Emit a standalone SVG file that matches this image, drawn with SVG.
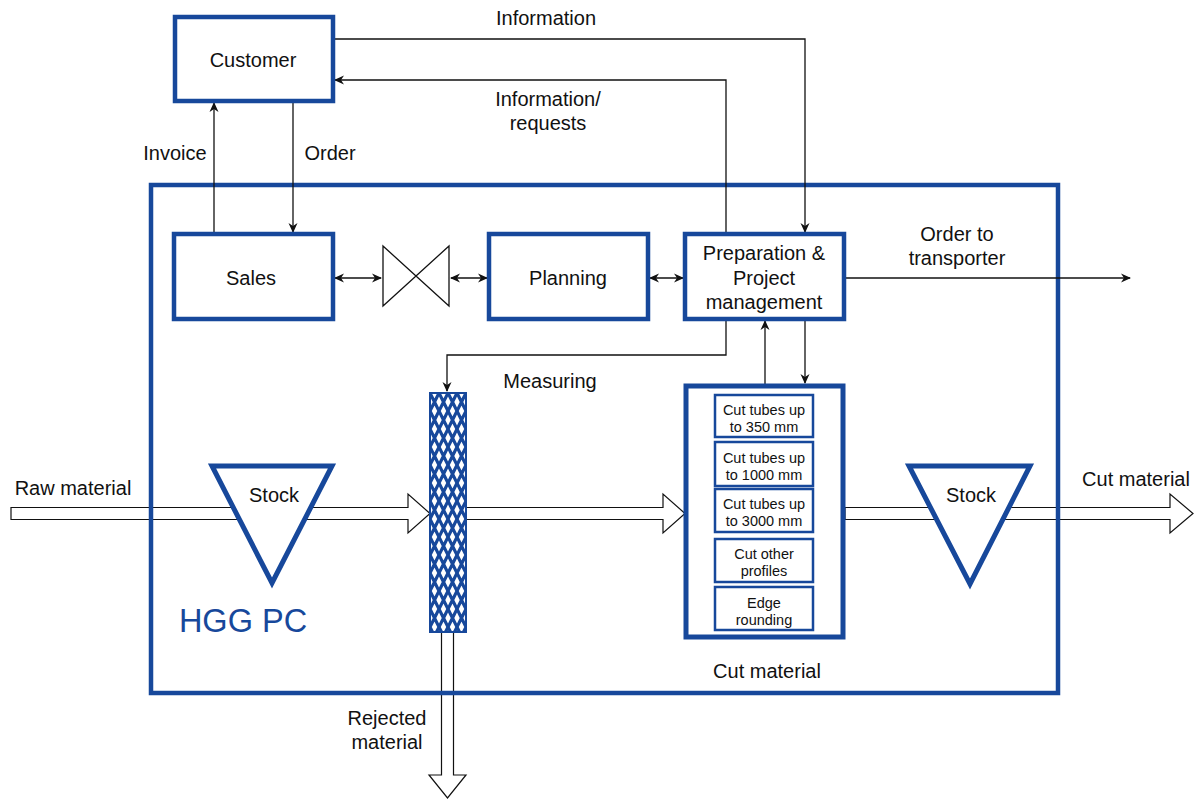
<svg xmlns="http://www.w3.org/2000/svg" width="1200" height="799" viewBox="0 0 1200 799">
<style>
text{font-family:"Liberation Sans",Arial,sans-serif;font-size:20px;fill:#111;text-anchor:middle}
.box{fill:#fff;stroke:#17489b;stroke-width:4.5}
.sb{fill:#fff;stroke:#17489b;stroke-width:2.5}
.sm{font-size:14.5px}
.ln{fill:none;stroke:#111;stroke-width:1.3}
.fat{fill:#fff;stroke:#111;stroke-width:1.2}
.tri{fill:#fff;stroke:#17489b;stroke-width:5;stroke-linejoin:miter}
</style>
<defs>
<marker id="ah" viewBox="0 0 10 10" refX="9" refY="5" markerWidth="10" markerHeight="10" markerUnits="userSpaceOnUse" orient="auto-start-reverse">
<path d="M0,0.5 L10,5 L0,9.5 L3,5 Z" fill="#111"/>
</marker>
<pattern id="mesh" patternUnits="userSpaceOnUse" x="430" y="393" width="9" height="18">
<rect width="9" height="18" fill="#fff"/>
<path d="M0,0 L9,18 M9,0 L0,18 M-4.5,-9 L4.5,9 M4.5,9 L13.5,27 M13.5,-9 L4.5,9 M4.5,9 L-4.5,27" stroke="#17489b" stroke-width="3.2"/>
</pattern>
</defs>
<rect width="1200" height="799" fill="#fff"/>

<g id="material-flow">
<path class="fat" d="M11,507.5 H408 V494 L430,513.5 L408,533 V519.5 H11 Z"/>
<path class="fat" d="M466,507.5 H663 V494 L685,513.5 L663,533 V519.5 H466 Z"/>
<path class="fat" d="M845,507.5 H1170 V494 L1193,513.5 L1170,533 V519.5 H845 Z"/>
<path class="fat" d="M441.5,632 V775 H429 L447.5,798 L466,775 H453.5 V632 Z"/>
</g>

<g id="hgg-pc">
<rect x="151" y="185" width="907" height="508" fill="none" stroke="#17489b" stroke-width="4.5"/>
<text x="243" y="632" style="font-size:32.5px;fill:#17489b">HGG PC</text>
</g>

<g id="connectors">
<polyline class="ln" points="333,39 805,39 805,232" marker-end="url(#ah)"/>
<polyline class="ln" points="726,234 726,80 335,80" marker-end="url(#ah)"/>
<line class="ln" x1="214" y1="234" x2="214" y2="103" marker-end="url(#ah)"/>
<line class="ln" x1="293" y1="101" x2="293" y2="232" marker-end="url(#ah)"/>
<line class="ln" x1="335" y1="278" x2="381" y2="278" marker-start="url(#ah)" marker-end="url(#ah)"/>
<line class="ln" x1="451" y1="278" x2="487" y2="278" marker-start="url(#ah)" marker-end="url(#ah)"/>
<line class="ln" x1="650" y1="278" x2="683" y2="278" marker-start="url(#ah)" marker-end="url(#ah)"/>
<line class="ln" x1="844" y1="278" x2="1130" y2="278" marker-end="url(#ah)"/>
<polyline class="ln" points="726,319 726,355 447,355 447,391" marker-end="url(#ah)"/>
<line class="ln" x1="805" y1="319" x2="805" y2="383" marker-end="url(#ah)"/>
<line class="ln" x1="765" y1="385" x2="765" y2="321" marker-end="url(#ah)"/>
<text x="546" y="25">Information</text>
<text x="548" y="106">Information/</text>
<text x="548" y="130">requests</text>
<text x="175" y="160">Invoice</text>
<text x="330" y="160">Order</text>
<text x="957" y="241">Order to</text>
<text x="957" y="265">transporter</text>
<text x="550" y="388">Measuring</text>
</g>

<g id="customer">
<rect class="box" x="175" y="17" width="158" height="84"/>
<text x="253" y="67">Customer</text>
</g>
<g id="sales">
<rect class="box" x="174" y="234" width="159" height="85"/>
<text x="251" y="285">Sales</text>
</g>
<g id="valve">
<path d="M383,246 L449,306 V246 L383,306 Z" fill="#fff" stroke="#111" stroke-width="1.3"/>
</g>
<g id="planning">
<rect class="box" x="489" y="234" width="159" height="85"/>
<text x="568" y="285">Planning</text>
</g>
<g id="preparation">
<rect class="box" x="685" y="234" width="159" height="85"/>
<text x="764" y="260">Preparation &amp;</text>
<text x="764" y="285">Project</text>
<text x="764" y="309">management</text>
</g>

<g id="stock-left">
<polygon class="tri" points="212,466 332,466 272,583"/>
<text x="274" y="502">Stock</text>
</g>
<g id="raw-label"><text x="73" y="495">Raw material</text></g>

<g id="measuring-bar">
<rect x="430" y="393" width="36" height="239" fill="url(#mesh)" stroke="#17489b" stroke-width="2"/>
</g>
<g id="rejected-label">
<text x="387" y="725">Rejected</text>
<text x="387" y="749">material</text>
</g>

<g id="cutting">
<rect x="686" y="386" width="157" height="251" fill="#fff" stroke="#17489b" stroke-width="5"/>
<rect class="sb" x="715" y="395" width="98" height="42"/>
<text class="sm" x="764" y="415">Cut tubes up</text>
<text class="sm" x="764" y="432">to 350 mm</text>
<rect class="sb" x="715" y="442" width="98" height="44"/>
<text class="sm" x="764" y="463">Cut tubes up</text>
<text class="sm" x="764" y="480">to 1000 mm</text>
<rect class="sb" x="715" y="489" width="98" height="43"/>
<text class="sm" x="764" y="509">Cut tubes up</text>
<text class="sm" x="764" y="526">to 3000 mm</text>
<rect class="sb" x="715" y="539" width="98" height="43"/>
<text class="sm" x="764" y="559">Cut other</text>
<text class="sm" x="764" y="576">profiles</text>
<rect class="sb" x="715" y="587" width="98" height="43"/>
<text class="sm" x="764" y="608">Edge</text>
<text class="sm" x="764" y="625">rounding</text>
<text x="767" y="678">Cut material</text>
</g>

<g id="stock-right">
<polygon class="tri" points="909,466 1030,466 970,584"/>
<text x="971" y="502">Stock</text>
</g>
<g id="cut-label"><text x="1136" y="486">Cut material</text></g>
</svg>
